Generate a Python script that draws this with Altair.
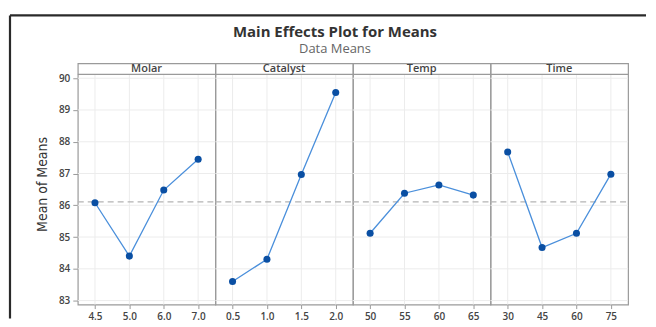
import altair as alt
import pandas as pd

# ---- data ----
factor_names = ["Molar", "Catalyst", "Temp", "Time"]
molar_levels = ["4.5", "5.0", "6.0", "7.0"]
molar_means = [86.08, 84.40, 86.48, 87.45]
catalyst_levels = ["0.5", "1.0", "1.5", "2.0"]
catalyst_means = [83.60, 84.30, 86.97, 89.55]
temp_levels = ["50", "55", "60", "65"]
temp_means = [85.12, 86.38, 86.64, 86.32]
time_levels = ["30", "45", "60", "75"]
time_means = [87.68, 84.67, 85.12, 86.98]
grand_mean = 86.11
y_ticks = [83, 84, 85, 86, 87, 88, 89, 90]

all_levels = [molar_levels, catalyst_levels, temp_levels, time_levels]
all_means = [molar_means, catalyst_means, temp_means, time_means]

W = 138
H = 242
STRIP = 11
Y_DOMAIN = [82.874, 90.47]

LINE_C = "#4a8fdb"
PT_C = "#0a4fa3"
BORDER_C = "#9a9a9a"
GRID_C = "#ececec"
TXT_C = "#444444"
NARROW = "'Liberation Sans Narrow', 'DejaVu Sans Condensed', 'Roboto Condensed', 'Open Sans Condensed', sans-serif"


def panel(i):
    name = factor_names[i]
    lv = all_levels[i]
    mv = all_means[i]
    df = pd.DataFrame({"level": lv, "mean": mv})
    one = pd.DataFrame({"factor": [name], "gm": [grand_mean]})
    ticks = pd.DataFrame({"t": y_ticks})

    xenc = alt.X(
        "level:O",
        sort=lv,
        scale=alt.Scale(type="point", padding=0.5),
        axis=alt.Axis(title=None, labelAngle=0, domain=False, grid=False,
                      ticks=True, tickSize=4, tickColor=BORDER_C,
                      labelFont="Open Sans", labelFontWeight=600,
                      labelFontSize=10, labelColor=TXT_C, labelPadding=3),
    )
    yscale = alt.Scale(domain=Y_DOMAIN, nice=False, zero=False)
    if i == 0:
        yaxis = alt.Axis(title="Mean of Means", values=y_ticks, grid=False,
                         domain=False, ticks=True, tickSize=5, tickColor=BORDER_C,
                         labelFont="Open Sans", labelFontWeight=600,
                         labelFontSize=10, labelColor=TXT_C, labelPadding=3,
                         titleFont=NARROW, titleFontSize=14,
                         titleFontWeight="normal", titleColor="#333333",
                         titlePadding=9)
    else:
        yaxis = None

    line = alt.Chart(df).mark_line(color=LINE_C, strokeWidth=1.3).encode(
        x=xenc, y=alt.Y("mean:Q", scale=yscale, axis=yaxis))
    hgrid = alt.Chart(ticks).mark_rule(color=GRID_C, strokeWidth=1).encode(
        y=alt.Y("t:Q", scale=yscale, axis=yaxis),
        x=alt.value(0), x2=alt.value(W))
    vgrid = alt.Chart(df).mark_rule(color=GRID_C, strokeWidth=1).encode(
        x=xenc, y=alt.value(STRIP), y2=alt.value(H))
    mean_rule = alt.Chart(one).mark_rule(
        color="#b4b4b4", strokeWidth=1.3, strokeDash=[6, 4]).encode(
        y=alt.Y("gm:Q", scale=yscale, axis=yaxis),
        x=alt.value(0), x2=alt.value(W))
    strip_line = alt.Chart(one).mark_rule(color=BORDER_C, strokeWidth=1.2).encode(
        y=alt.value(STRIP), x=alt.value(0), x2=alt.value(W))
    strip_text = alt.Chart(one).mark_text(
        font="Open Sans", fontSize=11, fontWeight=600, color=TXT_C,
        baseline="middle").encode(
        text="factor:N", x=alt.value(W / 2), y=alt.value(STRIP / 2 + 0.5))
    pts = alt.Chart(df).mark_point(filled=True, shape="circle", size=50,
                                   color=PT_C, opacity=1).encode(
        x=xenc, y=alt.Y("mean:Q", scale=yscale, axis=yaxis))
    layers = [hgrid, vgrid, mean_rule, strip_line, line, pts, strip_text]
    if i == 0:
        frame_top = alt.Chart(one).mark_rule(color="#2a2a2a", strokeWidth=2.2).encode(
            x=alt.value(-68), x2=alt.value(570), y=alt.value(-48))
        frame_left = alt.Chart(one).mark_rule(color="#2a2a2a", strokeWidth=2.2).encode(
            x=alt.value(-68), y=alt.value(-48), y2=alt.value(H + 14))
        layers += [frame_top, frame_left]
    return alt.layer(*layers).properties(width=W, height=H)


chart = alt.hconcat(*[panel(i) for i in range(4)], spacing=0, bounds="flush").properties(
    title=alt.TitleParams(
        text="Main Effects Plot for Means",
        subtitle="Data Means",
        anchor="middle", dx=7,
        font="Open Sans", fontSize=15, fontWeight="bold", color="#333333",
        subtitleFont="Open Sans", subtitleFontSize=13, subtitleColor="#666666",
        subtitlePadding=3, offset=-42,
    ),
    padding={"left": 0, "top": 5, "right": 0, "bottom": 0},
).configure_view(stroke=BORDER_C, strokeWidth=1.2).configure_concat(spacing=0)

chart.save("out.html", embed_options={"renderer": "svg", "actions": False})
